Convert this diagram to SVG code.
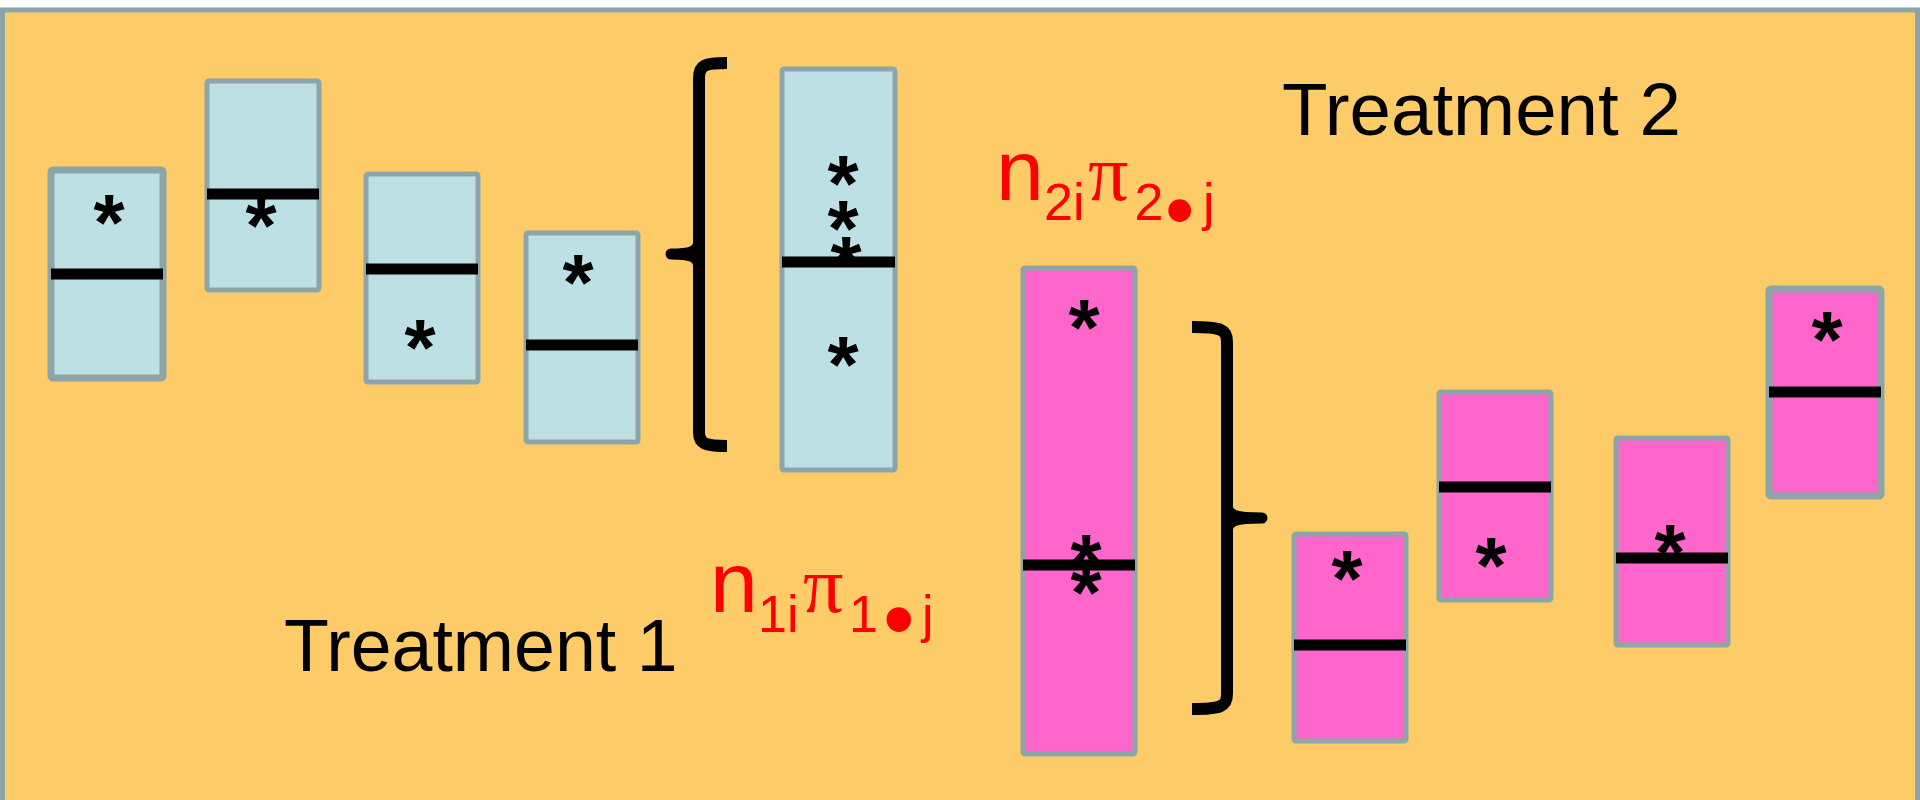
<svg xmlns="http://www.w3.org/2000/svg" width="1920" height="800" viewBox="0 0 1920 800">
  <style>
    .panel { fill: #FECB69; stroke: #8BA5A8; stroke-width: 5; }
    .box { stroke: #8BA5A8; stroke-width: 5; }
    .box.heavy { stroke-width: 7; }
    .t1 { fill: #BCE0E3; }
    .t2 { fill: #FF66CC; }
    .mean { stroke: #000; stroke-width: 11; }
    .star { font-family: "Liberation Sans", Arial, sans-serif; font-size: 80px; font-weight: bold; text-anchor: middle; fill: #000; }
    .title { font-family: "Liberation Sans", Arial, sans-serif; fill: #000; }
    .sym { font-family: "Liberation Sans", Arial, sans-serif; fill: #FF0000; }
    .big { font-size: 86px; }
    .sub { font-size: 52px; }
    .greek { font-family: "Liberation Serif", "Times New Roman", serif; font-size: 80px; fill: #FF0000; }
    .brace { fill: none; stroke: #000; stroke-width: 12; stroke-linecap: butt; }
    .nub { fill: none; stroke: #000; stroke-width: 11; stroke-linecap: round; }
  </style>

  <!-- backdrop -->
  <rect class="panel" x="2.5" y="10" width="1915" height="800"/>

  <!-- treatment 1 groups -->
  <g id="t1-g1">
    <rect class="box heavy t1" x="51" y="170" width="112" height="208" rx="2"/>
    <line class="mean" x1="51" y1="274" x2="163" y2="274"/>
    <text class="star" x="109" y="250">*</text>
  </g>
  <g id="t1-g2">
    <rect class="box t1" x="207" y="81" width="112" height="209" rx="2"/>
    <line class="mean" x1="207" y1="194" x2="319" y2="194"/>
    <text class="star" x="261" y="253">*</text>
  </g>
  <g id="t1-g3">
    <rect class="box t1" x="366" y="174" width="112" height="208" rx="2"/>
    <line class="mean" x1="366" y1="269" x2="478" y2="269"/>
    <text class="star" x="420" y="375">*</text>
  </g>
  <g id="t1-g4">
    <rect class="box t1" x="526" y="233" width="112" height="209" rx="2"/>
    <line class="mean" x1="526" y1="345" x2="638" y2="345"/>
    <text class="star" x="578" y="310">*</text>
  </g>
  <g id="t1-pooled">
    <rect class="box t1" x="782" y="69" width="113" height="401" rx="2"/>
    <line class="mean" x1="782" y1="262" x2="895" y2="262"/>
    <text class="star" x="843" y="211">*</text>
    <text class="star" x="843" y="256">*</text>
    <text class="star" x="846" y="292">*</text>
    <text class="star" x="843" y="392">*</text>
  </g>

  <!-- treatment 2 groups -->
  <g id="t2-pooled">
    <rect class="box t2" x="1023" y="268" width="112" height="486" rx="2"/>
    <line class="mean" x1="1023" y1="565" x2="1135" y2="565"/>
    <text class="star" x="1084" y="355">*</text>
    <text class="star" x="1086" y="590">*</text>
    <text class="star" x="1086" y="620">*</text>
  </g>
  <g id="t2-g1">
    <rect class="box t2" x="1294" y="534" width="112" height="207" rx="2"/>
    <line class="mean" x1="1294" y1="645" x2="1406" y2="645"/>
    <text class="star" x="1347" y="606">*</text>
  </g>
  <g id="t2-g2">
    <rect class="box t2" x="1439" y="392" width="112" height="208" rx="2"/>
    <line class="mean" x1="1439" y1="487" x2="1551" y2="487"/>
    <text class="star" x="1491" y="593">*</text>
  </g>
  <g id="t2-g3">
    <rect class="box t2" x="1616" y="438" width="112" height="207" rx="2"/>
    <line class="mean" x1="1616" y1="558" x2="1728" y2="558"/>
    <text class="star" x="1670" y="580">*</text>
  </g>
  <g id="t2-g4">
    <rect class="box heavy t2" x="1769" y="289" width="112" height="207" rx="2"/>
    <line class="mean" x1="1769" y1="392" x2="1881" y2="392"/>
    <text class="star" x="1827" y="367">*</text>
  </g>

  <!-- braces joining the groups to the pooled columns -->
  <g id="connectors">
    <path class="brace" d="M727,63 C705,63 699,65 699,78 L699,432 C699,444 705,446 727,446"/>
    <path class="nub" d="M671,254 C690,254 699,252 699,240 M671,254 C690,254 699,256 699,268"/>
    <path class="brace" d="M1192,327 C1220,327 1227,329 1227,342 L1227,694 C1227,707 1220,709 1192,709"/>
    <path class="nub" d="M1262,518 C1236,518 1227,516 1227,504 M1262,518 C1236,518 1227,520 1227,532"/>
  </g>

  <!-- headings -->
  <g id="label-t2">
    <text class="title" x="1282" y="135" font-size="74.5">Treatment 2</text>
  </g>
  <g id="label-t1">
    <text class="title" x="284" y="671" font-size="73.5">Treatment 1</text>
  </g>

  <!-- expected-count expressions -->
  <g id="expr-t2">
    <text class="sym big" x="996" y="200">n</text>
    <text class="sym sub" x="1044" y="220">2i</text>
    <text class="greek" x="1088" y="200">π</text>
    <text class="sym sub" x="1134.5" y="220">2</text>
    <text class="sym" x="1165" y="238" font-size="84">•</text>
    <text class="sym sub" x="1203" y="220">j</text>
  </g>
  <g id="expr-t1">
    <text class="sym big" x="710" y="612">n</text>
    <text class="sym sub" x="758" y="632">1i</text>
    <text class="greek" x="803" y="612">π</text>
    <text class="sym sub" x="849" y="632">1</text>
    <text class="sym" x="883" y="650" font-size="90">•</text>
    <text class="sym sub" x="922" y="632">j</text>
  </g>
</svg>
